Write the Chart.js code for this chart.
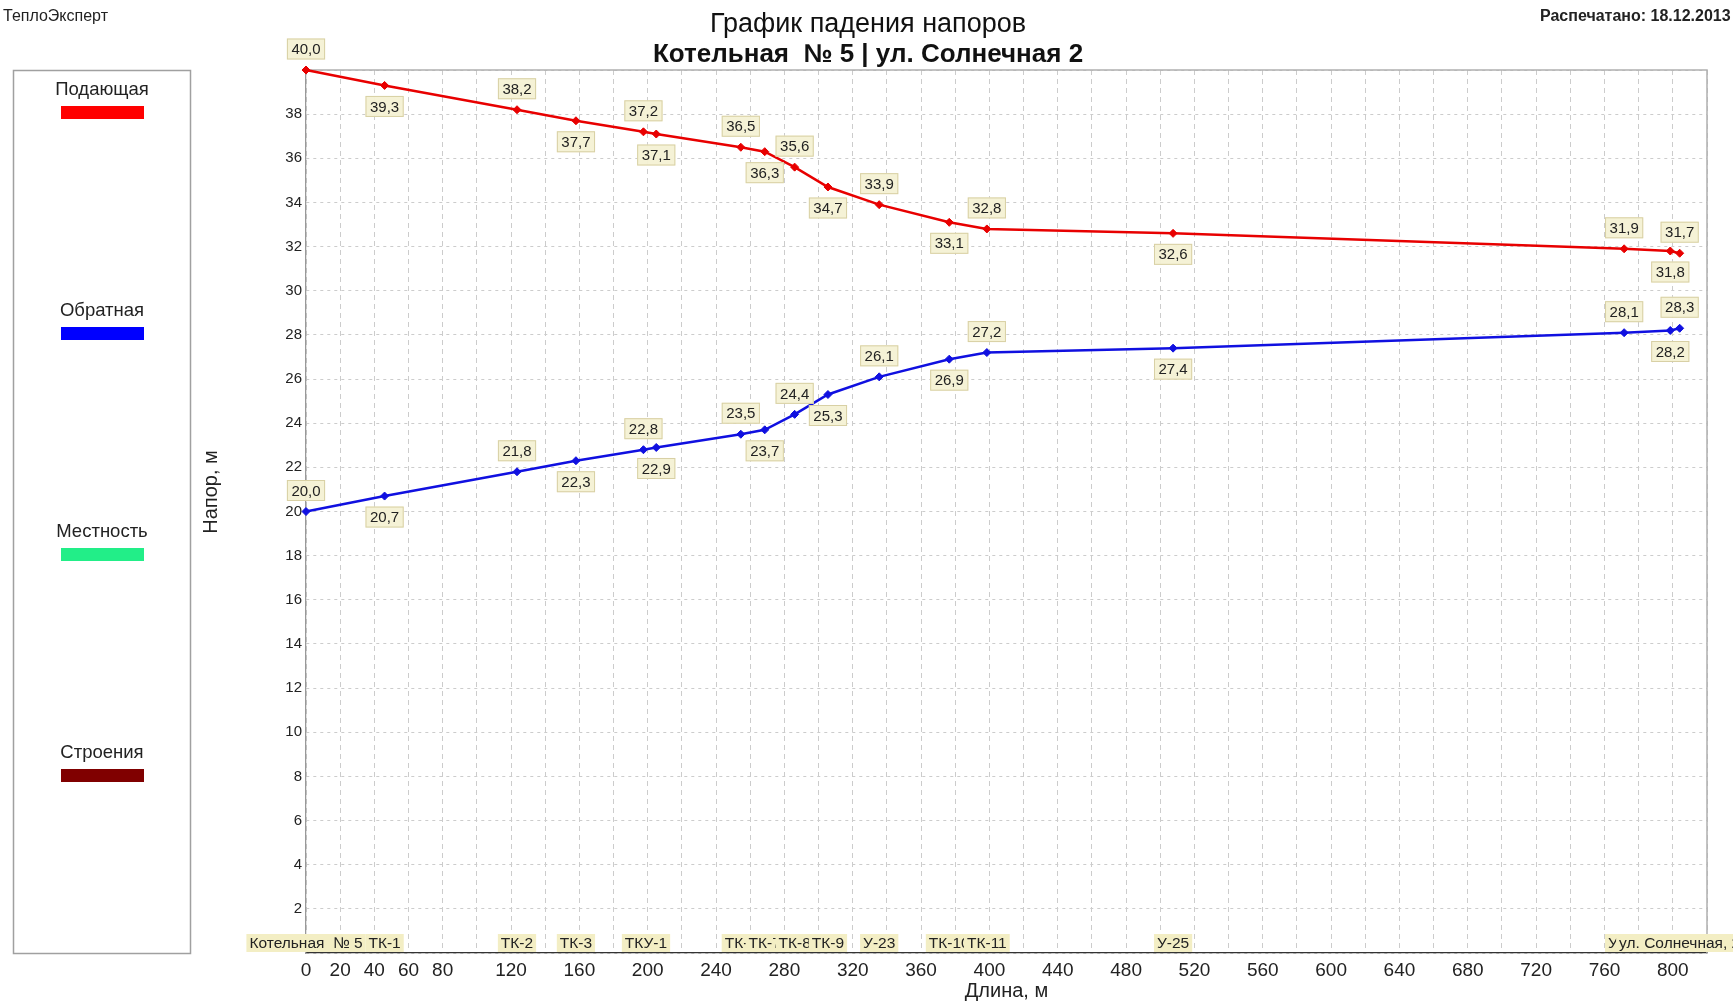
<!DOCTYPE html>
<html lang="ru">
<head>
<meta charset="utf-8">
<title>График падения напоров</title>
<script src="https://cdn.jsdelivr.net/npm/chart.js@4.4.1/dist/chart.umd.min.js"></script>
<style>
  html, body { margin: 0; padding: 0; background: #fff; }
  #wrap { width: 1733px; height: 1001px; }
</style>
</head>
<body>
<div id="wrap"><canvas id="grafik" width="1733" height="1001"></canvas></div>
<script>
// --- ДАННЫЕ ---
const distances  = [0, 46, 123.5, 158, 197.5, 205, 254.5, 268.5, 286, 305.5, 335.5, 376.5, 398.5, 507.5, 771.5, 798.5, 804];
const supplyHead = [40.0, 39.3, 38.2, 37.7, 37.2, 37.1, 36.5, 36.3, 35.6, 34.7, 33.9, 33.1, 32.8, 32.6, 31.9, 31.8, 31.7];
const returnHead = [20.0, 20.7, 21.8, 22.3, 22.8, 22.9, 23.5, 23.7, 24.4, 25.3, 26.1, 26.9, 27.2, 27.4, 28.1, 28.2, 28.3];

const nodeNames = ['Котельная  № 5', 'ТК-1', 'ТК-2', 'ТК-3', 'ТКУ-1', 'ТК-6', 'ТК-7', 'ТК-8', 'ТК-9', 'У-23', 'ТК-10', 'ТК-11', 'У-25', 'У-27', 'ул. Солнечная, 2'];
const nodeDist  = [0, 46, 123.5, 158, 199, 254.5, 268.5, 286, 305.5, 335.5, 376.5, 398.5, 507.5, 771.5, 804];

const xTickLabels = [0, 20, 40, 60, 80, 120, 160, 200, 240, 280, 320, 360, 400, 440, 480, 520, 560, 600, 640, 680, 720, 760, 800];
const yTickLabels = [2, 4, 6, 8, 10, 12, 14, 16, 18, 20, 22, 24, 26, 28, 30, 32, 34, 36, 38];

const legendNames = ['Подающая', 'Обратная', 'Местность', 'Строения'];

// --- СТИЛИ ---
const FONT = "'Liberation Sans', Arial, sans-serif";
const legendColors = ['#ff0000', '#0000ff', '#22ee88', '#800000'];
const RED = '#e80000';
const BLUE = '#1010e0';

const fmt = (v) => v.toFixed(1).replace('.', ',');

// подписи, рамки, легенда
const oformlenie = {
    id: 'oformlenie',
    beforeDraw(chart) {
        const ctx = chart.ctx;
        ctx.save();
        ctx.fillStyle = '#fff';
        ctx.fillRect(0, 0, chart.width, chart.height);

        ctx.fillStyle = '#222';
        ctx.textBaseline = 'middle';
        ctx.textAlign = 'left';
        ctx.font = `16px ${FONT}`;
        ctx.fillText('ТеплоЭксперт', 3, 17);
        ctx.font = `bold 16px ${FONT}`;
        ctx.fillText('Распечатано: 18.12.2013', 1540, 17);

        ctx.textAlign = 'center';
        ctx.fillStyle = '#111';
        ctx.font = `27px ${FONT}`;
        ctx.fillText('График падения напоров', 868, 25);
        ctx.font = `bold 26px ${FONT}`;
        ctx.fillText('Котельная  № 5 | ул. Солнечная 2', 868, 55);

        // легенда
        ctx.strokeStyle = '#a0a0a0';
        ctx.lineWidth = 1.5;
        ctx.strokeRect(13.5, 70.5, 177, 883);
        ctx.font = `18.5px ${FONT}`;
        legendNames.forEach((name, i) => {
            const y0 = 90 + i * 221;
            ctx.fillStyle = '#222';
            ctx.fillText(name, 102, y0);
            ctx.fillStyle = legendColors[i];
            ctx.fillRect(61, y0 + 16, 83, 13);
        });

        // подписи осей
        ctx.fillStyle = '#222';
        ctx.font = `20px ${FONT}`;
        const area = chart.chartArea;
        ctx.fillText('Длина, м', (area.left + area.right) / 2, 991);
        ctx.save();
        ctx.translate(211, 492);
        ctx.rotate(-Math.PI / 2);
        ctx.fillText('Напор, м', 0, 0);
        ctx.restore();
        ctx.restore();
    },
    beforeDatasetsDraw(chart) {
        const {ctx, chartArea: a} = chart;
        ctx.save();
        ctx.strokeStyle = '#b0b0b0';
        ctx.lineWidth = 1.5;
        ctx.beginPath();
        ctx.moveTo(a.left, a.top);
        ctx.lineTo(a.right, a.top);
        ctx.lineTo(a.right, a.bottom);
        ctx.stroke();
        ctx.restore();
    },
    afterDatasetsDraw(chart) {
        const ctx = chart.ctx;
        const xScale = chart.scales.x;
        const bottom = chart.chartArea.bottom;
        ctx.save();
        ctx.textAlign = 'center';
        ctx.textBaseline = 'middle';

        // названия узлов у оси
        ctx.font = `15.5px ${FONT}`;
        nodeNames.forEach((name, i) => {
            const x = xScale.getPixelForValue(nodeDist[i]);
            const w = ctx.measureText(name).width + 6;
            ctx.fillStyle = '#f3eec4';
            ctx.fillRect(x - w / 2, bottom - 19, w, 18);
            ctx.fillStyle = '#222';
            ctx.fillText(name, x, bottom - 9.5);
        });

        // значения напоров
        ctx.font = `15px ${FONT}`;
        chart.data.datasets.forEach((ds, di) => {
            const meta = chart.getDatasetMeta(di);
            meta.data.forEach((pt, i) => {
                const txt = fmt(ds.data[i].y);
                const cy = pt.y + (i % 2 === 0 ? -21 : 21);
                const w = ctx.measureText(txt).width + 9;
                ctx.fillStyle = 'rgba(244,241,212,0.95)';
                ctx.fillRect(pt.x - w / 2, cy - 10.5, w, 21);
                ctx.strokeStyle = '#d8d0a4';
                ctx.lineWidth = 1;
                ctx.strokeRect(pt.x - w / 2 + 0.5, cy - 10, w - 1, 20);
                ctx.fillStyle = '#222';
                ctx.fillText(txt, pt.x, cy + 1);
            });
        });
        ctx.restore();
    }
};

const seria = (values, color, name) => ({
    label: name,
    data: distances.map((d, i) => ({ x: d, y: values[i] })),
    borderColor: color,
    backgroundColor: color,
    borderWidth: 2.5,
    pointStyle: 'rectRot',
    pointRadius: 4,
    pointBorderWidth: 1,
    tension: 0,
    clip: false
});

new Chart(document.getElementById('grafik'), {
    type: 'line',
    data: {
        datasets: [
            seria(supplyHead, RED, 'Подающая'),
            seria(returnHead, BLUE, 'Обратная')
        ]
    },
    options: {
        responsive: false,
        animation: false,
        devicePixelRatio: 1,
        layout: { padding: { left: 0, top: 70, right: 26, bottom: 0 } },
        plugins: { legend: { display: false }, tooltip: { enabled: false } },
        scales: {
            x: {
                type: 'linear',
                min: 0,
                max: 820,
                afterFit: (s) => { s.height = 48; },
                ticks: {
                    stepSize: 20,
                    autoSkip: false,
                    maxRotation: 0,
                    padding: 6,
                    color: '#222',
                    font: { family: FONT, size: 19 },
                    callback: (v) => xTickLabels.includes(v) ? String(v) : ''
                },
                grid: { color: '#cccccc', lineWidth: 1, drawTicks: false },
                border: { color: '#333', width: 1.3, dash: [5, 4] }
            },
            y: {
                min: 0,
                max: 40,
                afterFit: (s) => { s.width = 306; },
                ticks: {
                    stepSize: 2,
                    padding: 4,
                    color: '#222',
                    font: { family: FONT, size: 15 },
                    callback: (v) => yTickLabels.includes(v) ? String(v) : ''
                },
                grid: { color: '#cccccc', lineWidth: 1, drawTicks: false },
                border: { color: '#999', width: 1.3, dash: [3, 4] }
            }
        }
    },
    plugins: [oformlenie]
});
</script>
</body>
</html>
